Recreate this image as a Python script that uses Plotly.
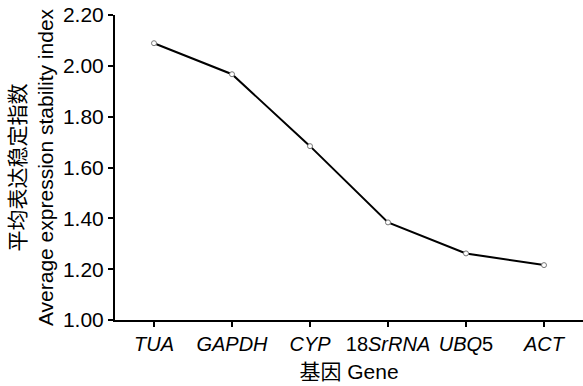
import plotly.graph_objects as go

genes = ["<i>TUA</i>", "<i>GAPDH</i>", "<i>CYP</i>", "18<i>SrRNA</i>", "<i>UBQ</i>5", "<i>ACT</i>"]
stability = [2.089, 1.967, 1.684, 1.384, 1.262, 1.216]
y_ticks = [1.0, 1.2, 1.4, 1.6, 1.8, 2.0, 2.2]
y_tick_text = ["1.00", "1.20", "1.40", "1.60", "1.80", "2.00", "2.20"]

FONT = "Liberation Sans, Arial, Noto Sans CJK SC, sans-serif"

fig = go.Figure()
fig.add_trace(go.Scatter(
    x=list(range(len(genes))), y=stability, mode="lines+markers",
    line=dict(color="black", width=2),
    marker=dict(symbol="circle", size=5, color="white", line=dict(color="#777777", width=1)),
    showlegend=False,
))

fig.update_layout(
    width=583, height=386,
    margin=dict(l=115, r=0, t=15, b=66),
    paper_bgcolor="white", plot_bgcolor="white",
    font=dict(family=FONT, size=21, color="black"),
    xaxis=dict(
        range=[-0.5, 5.5], tickmode="array",
        tickvals=list(range(len(genes))), ticktext=genes,
        showline=True, linecolor="black", linewidth=2,
        ticks="outside", ticklen=5, tickwidth=1.5, tickcolor="black",
        tickson="boundaries", showgrid=False, zeroline=False,
        tickfont=dict(size=20),
        title=dict(text="基因 Gene", font=dict(size=21), standoff=10),
    ),
    yaxis=dict(
        range=[1.0, 2.2], tickmode="array", tickvals=y_ticks, ticktext=y_tick_text,
        showline=True, linecolor="black", linewidth=2,
        ticks="outside", ticklen=5, tickwidth=1.5, tickcolor="black",
        showgrid=False, zeroline=False, tickfont=dict(size=21),
        title=dict(text="平均表达稳定指数<br>Average expression stability index",
                   font=dict(size=21), standoff=4),
    ),
)

fig.write_html("out.html")
